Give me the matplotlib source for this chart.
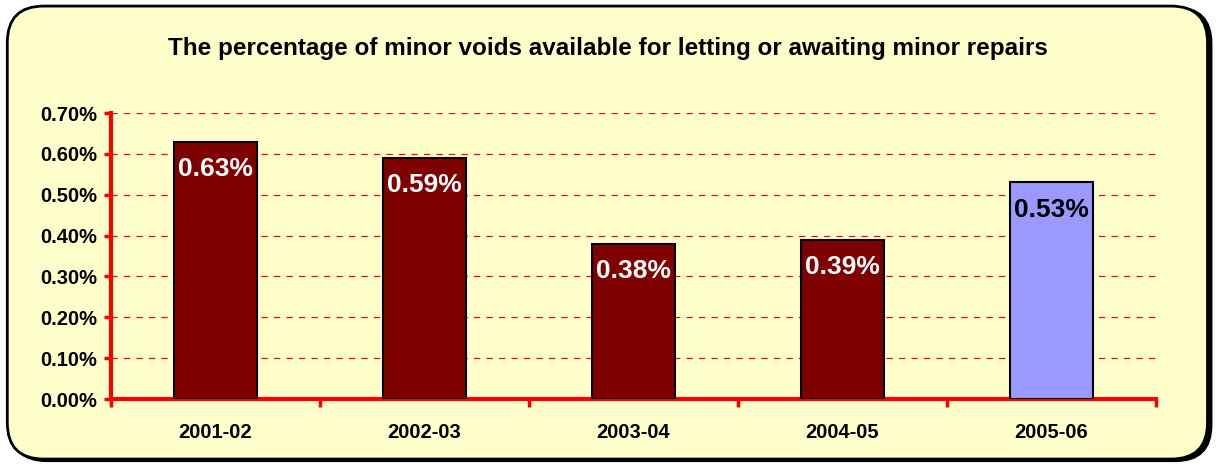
import matplotlib
matplotlib.use("Agg")
import matplotlib.pyplot as plt
from matplotlib.patches import FancyBboxPatch
from matplotlib.ticker import FuncFormatter, FixedLocator

categories = ["2001-02", "2002-03", "2003-04", "2004-05", "2005-06"]
values = [0.63, 0.59, 0.38, 0.39, 0.53]
labels = ["0.63%", "0.59%", "0.38%", "0.39%", "0.53%"]
bar_colors = ["#7F0000", "#7F0000", "#7F0000", "#7F0000", "#9999FF"]
label_colors = ["white", "white", "white", "white", "black"]
yticks = [0.0, 0.1, 0.2, 0.3, 0.4, 0.5, 0.6, 0.7]

plt.rcParams["font.family"] = ["Liberation Sans", "DejaVu Sans"]
plt.rcParams["font.weight"] = "bold"

fig = plt.figure(figsize=(12.16, 4.67), dpi=100)
fig.patch.set_facecolor("white")

# rounded chart frame with shadow
shadow = FancyBboxPatch((0.0085, 0.012), 0.988, 0.973, boxstyle="round,pad=0,rounding_size=0.03",
                        transform=fig.transFigure, facecolor="black", edgecolor="black",
                        mutation_aspect=1216 / 467, zorder=-2)
frame = FancyBboxPatch((0.006, 0.017), 0.987, 0.970, boxstyle="round,pad=0,rounding_size=0.03",
                       transform=fig.transFigure, facecolor="#FFFFCC", edgecolor="black", linewidth=2,
                       mutation_aspect=1216 / 467, zorder=-1)
fig.patches.extend([shadow, frame])

ax = fig.add_axes([0.0913, 0.1456, 0.8594, 0.6124])
ax.set_facecolor("none")

x = list(range(len(categories)))
ax.bar(x, values, width=0.40, color=bar_colors, edgecolor="black", linewidth=1.5, zorder=3)

for xi, v, lab, c in zip(x, values, labels, label_colors):
    ax.text(xi, v - 0.067, lab, ha="center", va="center", color=c, fontsize=19, fontweight="bold", zorder=4)

ax.set_xlim(-0.5, len(categories) - 0.5)
ax.set_ylim(0, 0.70)
ax.set_yticks(yticks)
ax.yaxis.set_major_formatter(FuncFormatter(lambda v, p: f"{v:.2f}%"))
ax.set_xticks(x)
ax.set_xticklabels(categories)
ax.xaxis.set_minor_locator(FixedLocator([i + 0.5 for i in range(-1, len(categories))]))

ax.tick_params(axis="y", direction="out", length=5, width=2.5, color="red", labelsize=14.5, pad=5)
ax.tick_params(axis="x", which="major", length=0, labelsize=14.5, pad=17)
ax.tick_params(axis="x", which="minor", direction="out", length=6, width=2.5, color="red")
for t in ax.get_xticklabels() + ax.get_yticklabels():
    t.set_fontweight("bold")

for s in ["top", "right"]:
    ax.spines[s].set_visible(False)
for s in ["left", "bottom"]:
    ax.spines[s].set_color("red")
    ax.spines[s].set_linewidth(3)

ax.yaxis.grid(True, color="red", linestyle=(0, (5, 5)), linewidth=0.9, zorder=0)
ax.set_axisbelow(True)

fig.text(0.5, 0.897, "The percentage of minor voids available for letting or awaiting minor repairs",
         ha="center", va="center", fontsize=17.5, fontweight="bold")

fig.savefig("out.png", dpi=100)
